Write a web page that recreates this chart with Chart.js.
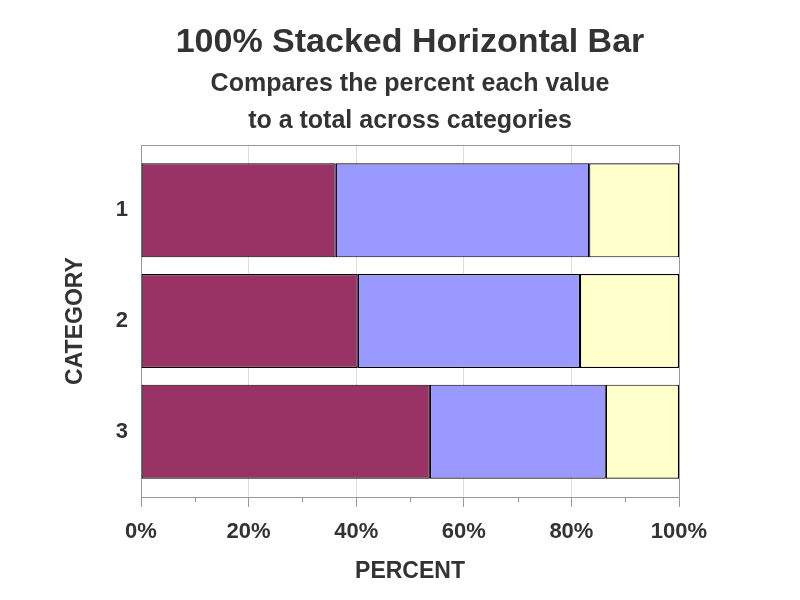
<!DOCTYPE html>
<html>
<head>
<meta charset="utf-8">
<script src="https://cdn.jsdelivr.net/npm/chart.js@4"></script>
<style>
  html, body { margin: 0; padding: 0; background: #fff; }
  #wrap { width: 800px; height: 600px; }
</style>
</head>
<body>
<div id="wrap"><canvas id="chart"></canvas></div>
<script>
// Stacked share values per category (percent of total)
var categories = [1, 2, 3];
var seriesA = [36.2, 40.3, 53.7];
var seriesB = [47.1, 41.3, 32.7];
var seriesC = [16.7, 18.4, 13.6];
var percentTicks = [0, 20, 40, 60, 80, 100];
var minorTicks = [10, 30, 50, 70, 90];

var TEXT = '#333333';
var FONT = 'Liberation Sans, Arial, sans-serif';

function points(values) {
  return values.map(function(v, i) { return { x: v, y: categories[i] }; });
}

function series(label, values, color) {
  return {
    label: label,
    data: points(values),
    backgroundColor: color,
    borderColor: '#000000',
    borderWidth: 1.2,
    borderSkipped: false,
    barPercentage: 0.85,
    categoryPercentage: 1
  };
}

// frame around the plot plus the short minor ticks under the axis
var framePlugin = {
  id: 'frame',
  beforeDatasetsDraw: function(chart) {
    var a = chart.chartArea, ctx = chart.ctx, x = chart.scales.x;
    ctx.save();
    ctx.strokeStyle = '#999999';
    ctx.lineWidth = 1;
    ctx.strokeRect(a.left + 0.5, a.top + 0.5, a.right - a.left, a.bottom - a.top);
    ctx.beginPath();
    minorTicks.forEach(function(t) {
      var px = Math.round(x.getPixelForValue(t)) + 0.5;
      ctx.moveTo(px, a.bottom);
      ctx.lineTo(px, a.bottom + 5);
    });
    ctx.stroke();
    ctx.restore();
  }
};

new Chart(document.getElementById('chart').getContext('2d'), {
  type: 'bar',
  data: {
    datasets: [
      series('A', seriesA, '#993366'),
      series('B', seriesB, '#9999FF'),
      series('C', seriesC, '#FFFFCC')
    ]
  },
  options: {
    indexAxis: 'y',
    responsive: true,
    maintainAspectRatio: false,
    animation: false,
    layout: { padding: { left: 20, right: 0, top: 0, bottom: 0 } },
    plugins: {
      legend: { display: false },
      tooltip: { enabled: false },
      title: {
        display: true,
        text: '100% Stacked Horizontal Bar',
        color: TEXT,
        font: { family: FONT, size: 34, weight: 'bold', lineHeight: 1.2 },
        padding: { top: 22.6, bottom: 0 }
      },
      subtitle: {
        display: true,
        text: ['Compares the percent each value', 'to a total across categories'],
        color: TEXT,
        font: { family: FONT, size: 25, weight: 'bold', lineHeight: 1.48 },
        padding: { top: 2.1, bottom: 5.5 }
      }
    },
    scales: {
      x: {
        type: 'linear',
        stacked: true,
        min: 0,
        max: 100,
        afterFit: function(s) { s.height = 103; },
        afterBuildTicks: function(s) {
          s.ticks = percentTicks.map(function(v) { return { value: v }; });
        },
        ticks: {
          color: TEXT,
          padding: 12,
          maxRotation: 0,
          font: { family: FONT, size: 22, weight: 'bold' },
          callback: function(v) { return v + '%'; }
        },
        grid: {
          color: '#dddddd',
          tickColor: '#999999',
          tickLength: 10
        },
        border: { display: true, color: '#999999' },
        title: {
          display: true,
          text: 'PERCENT',
          color: TEXT,
          font: { family: FONT, size: 23, weight: 'bold' },
          padding: { top: 15, bottom: 15 }
        }
      },
      y: {
        type: 'linear',
        stacked: true,
        reverse: true,
        offset: false,
        min: 0.41,
        max: 3.59,
        afterFit: function(s) { s.width = 121; },
        afterBuildTicks: function(s) {
          s.ticks = categories.map(function(v) { return { value: v }; });
        },
        ticks: {
          color: TEXT,
          padding: 13,
          font: { family: FONT, size: 22, weight: 'bold' }
        },
        grid: { display: false, drawTicks: false },
        border: { display: false },
        title: {
          display: true,
          text: 'CATEGORY',
          color: TEXT,
          font: { family: FONT, size: 23, weight: 'bold' },
          padding: { top: 42, bottom: 0 }
        }
      },
      // empty right-hand axis that only reserves the right margin
      yRight: {
        type: 'linear',
        position: 'right',
        display: true,
        afterFit: function(s) { s.width = 121; },
        ticks: { display: false },
        grid: { display: false, drawTicks: false },
        border: { display: false }
      }
    }
  },
  plugins: [framePlugin]
});
</script>
</body>
</html>
